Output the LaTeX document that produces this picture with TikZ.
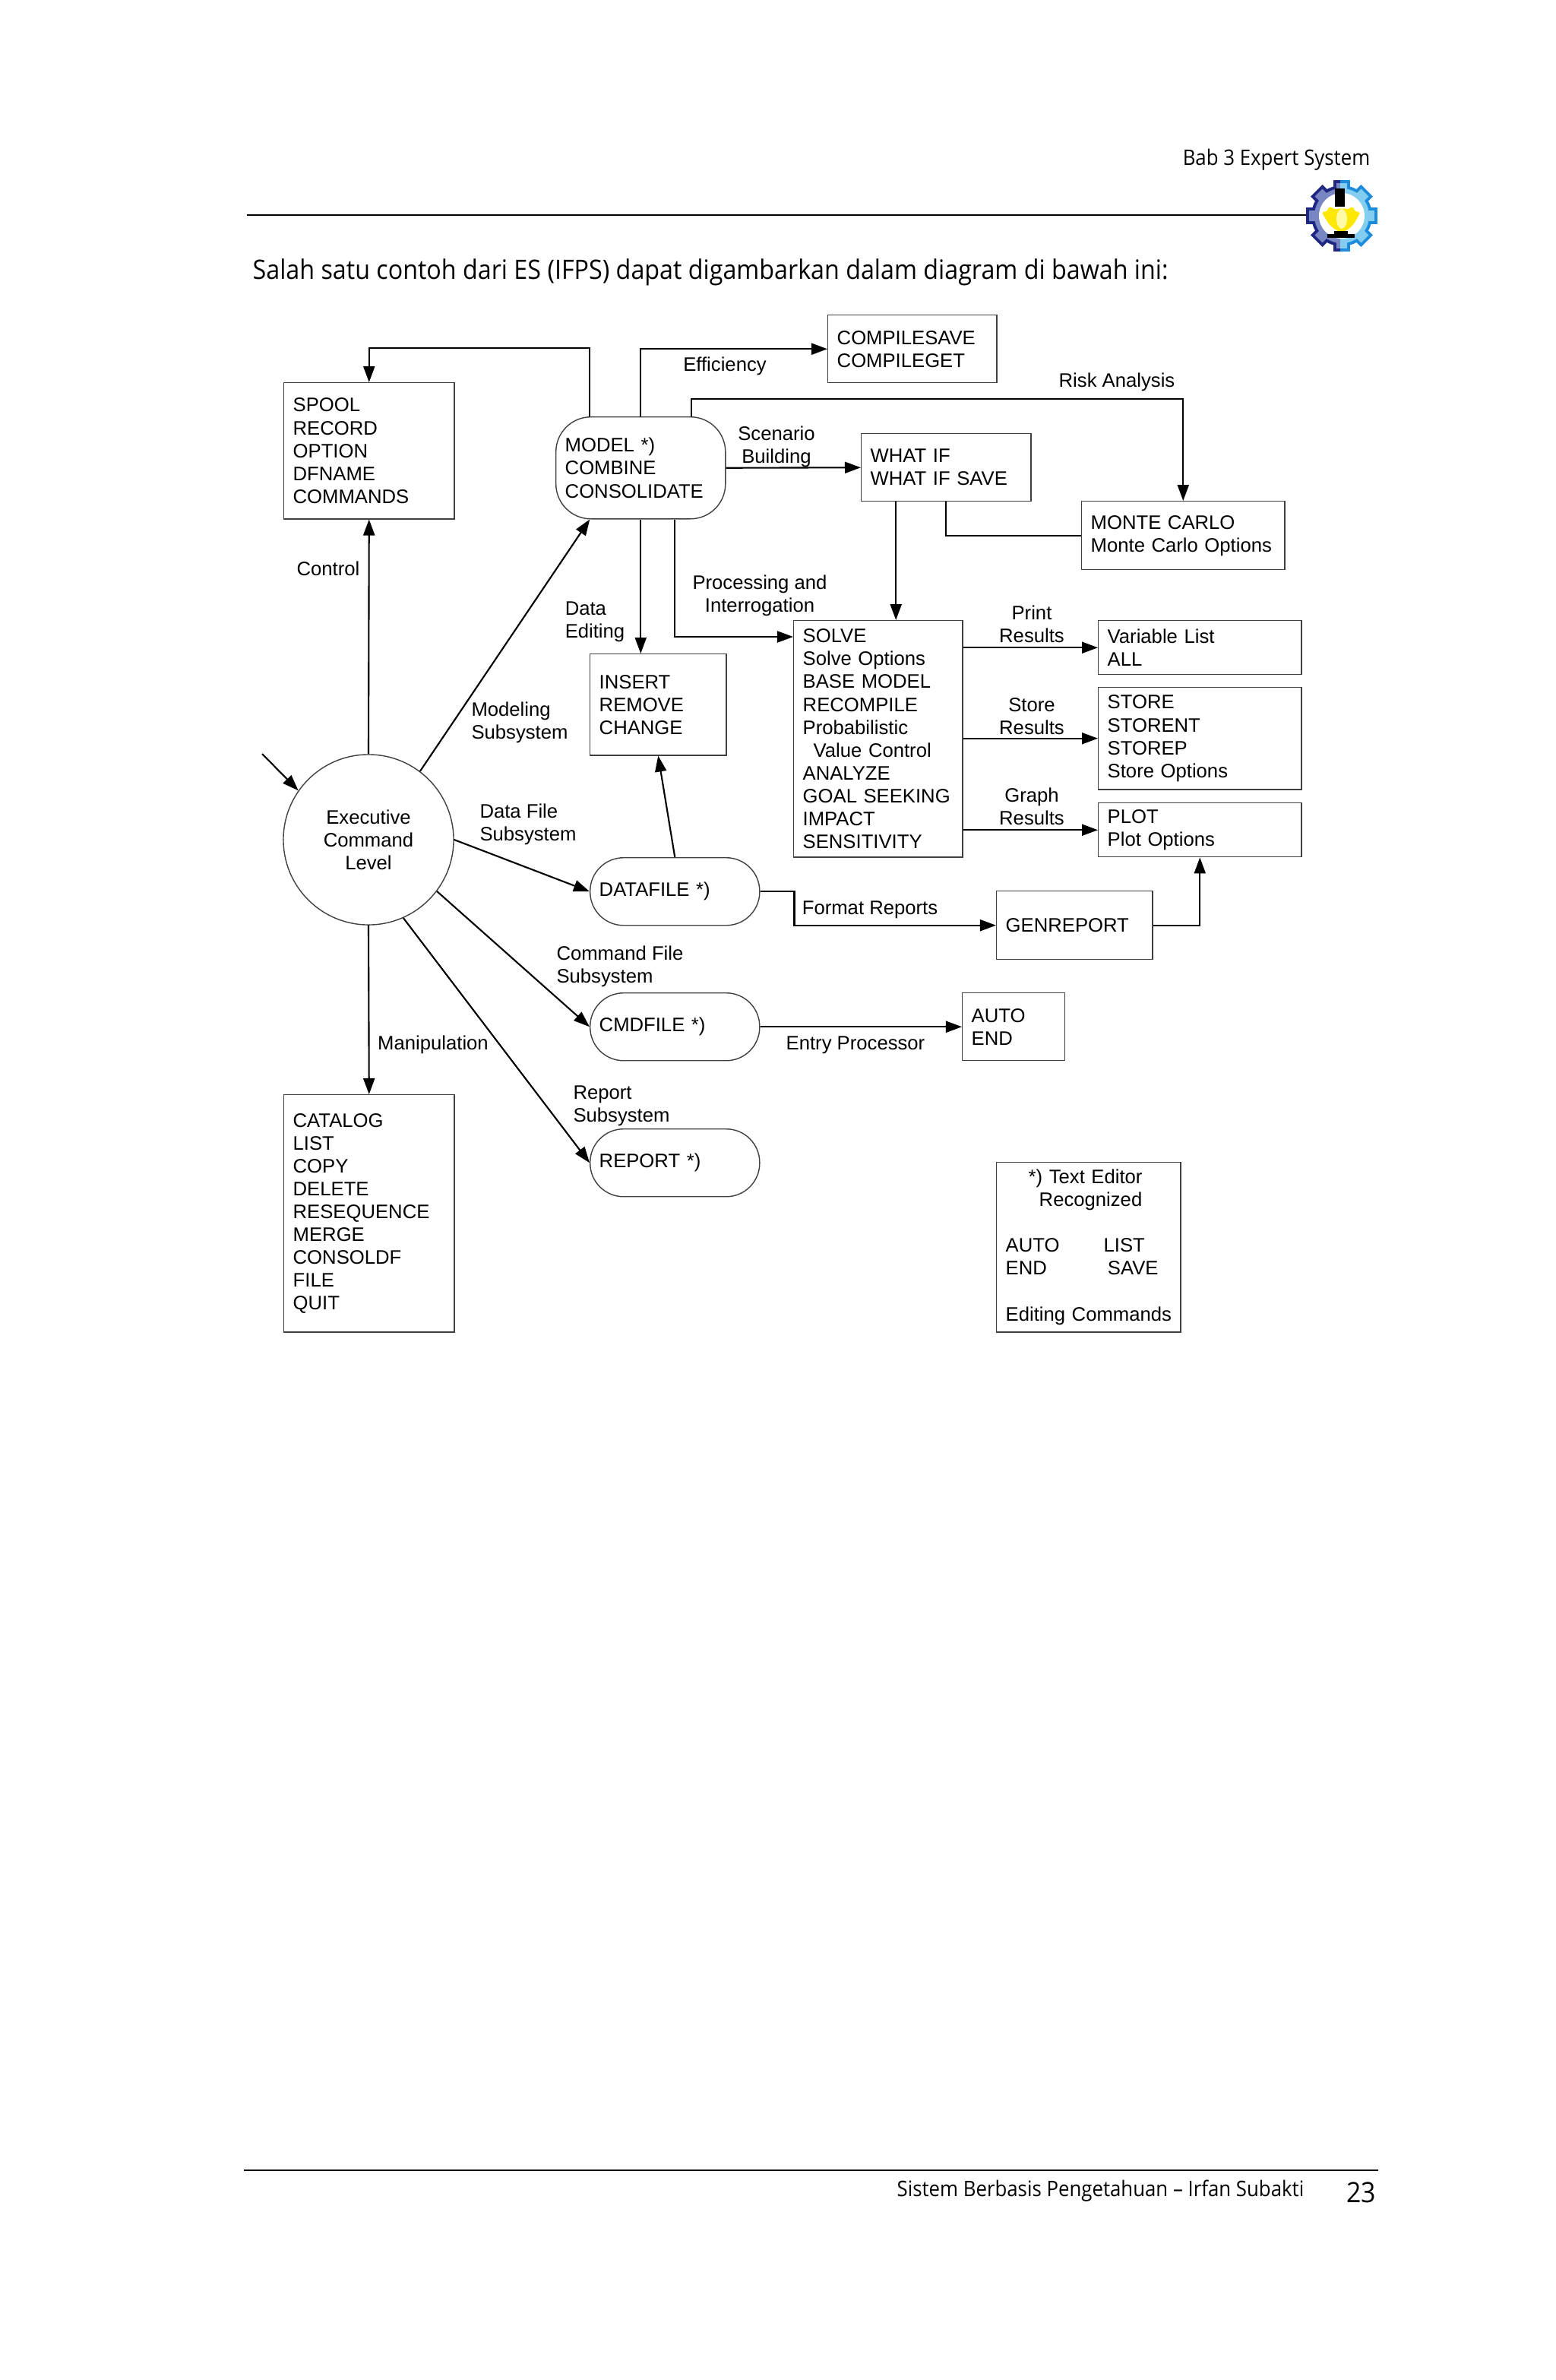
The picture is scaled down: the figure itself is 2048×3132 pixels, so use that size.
\documentclass[tikz,border=0pt]{standalone}
\usepackage{fontspec}
\setmainfont{Liberation Sans}
\newfontfamily\pagefont[FakeStretch=0.917]{Open Sans}
\usetikzlibrary{arrows.meta,positioning}
\tikzset{cbox/.style 2 args={draw=black!75, line width=0.4pt, anchor=north west, align=left, inner xsep=1.2mm, inner ysep=0pt, text width=#1mm-2.4mm, minimum height=#2mm}}
\tikzset{rbox/.style 2 args={cbox={#1}{#2}, rounded corners=4.4mm}}
\tikzset{lbl/.style={inner sep=0pt, align=center}}
\tikzset{lbll/.style={inner sep=0pt, align=left}}
\tikzset{arr/.style={draw, -{Triangle[length=2.1mm,width=1.5mm]}, line width=0.6pt}}
\tikzset{pagerule/.style={line width=0.75pt}}
\definecolor{logonavy}{RGB}{30,40,130}
\definecolor{logoslate}{RGB}{120,135,195}
\definecolor{logosky}{RGB}{30,140,220}
\definecolor{logopale}{RGB}{130,205,240}

\begin{document}
\begin{tikzpicture}[x=0.01cm, y=-0.01cm, font=\fontsize{7.3}{8.55}\selectfont]
        \useasboundingbox (0,0) rectangle (2048,3132);

        % page
        \node[inner sep=0pt, anchor=east, font=\pagefont\fontsize{8}{9}\selectfont] (head) at (1804,210) {Bab 3 Expert System};
        \node[inner sep=0pt, anchor=west, font=\pagefont\fontsize{10}{12}\selectfont] (intro) at (332,358) {Salah satu contoh dari ES (IFPS) dapat digambarkan dalam diagram di bawah ini:};
        \node[inner sep=0pt, anchor=east, font=\pagefont\fontsize{8}{9}\selectfont] (foot) at (1717,2883) {Sistem Berbasis Pengetahuan – Irfan Subakti};
        \node[inner sep=0pt, anchor=east, font=\pagefont\fontsize{10.5}{12}\selectfont] (pageno) at (1812,2885) {23};
        \coordinate (headl) at (325,283);
        \coordinate (headr) at (1722,283);
        \coordinate (footl) at (321,2856);
        \coordinate (footr) at (1814,2856);
        \draw[pagerule] (headl) -- (headr);
        \draw[pagerule] (footl) -- (footr);

        % logo
        \begin{scope}[shift={(1766,284)}]
            \begin{scope}
                \clip (-60,-60) rectangle (-2,60);
                \fill[logonavy] (0,0) circle[radius=40];
                \foreach \a in {0,45,...,315}
                    \fill[logonavy, rotate=\a] (-11,-47) rectangle (11,-36);
                \fill[logoslate] (0,0) circle[radius=36];
                \foreach \a in {0,45,...,315}
                    \fill[logoslate, rotate=\a] (-7,-43) rectangle (7,-34);
            \end{scope}
            \begin{scope}
                \clip (-2,-60) rectangle (60,60);
                \fill[logosky] (0,0) circle[radius=40];
                \foreach \a in {0,45,...,315}
                    \fill[logosky, rotate=\a] (-11,-47) rectangle (11,-36);
                \fill[logopale] (0,0) circle[radius=36];
                \foreach \a in {0,45,...,315}
                    \fill[logopale, rotate=\a] (-7,-43) rectangle (7,-34);
            \end{scope}
            \fill[white] (0,0) circle[radius=30];
            \fill[yellow!90!orange, rounded corners=2] (0,23) -- (-15,14) -- (-28,-7) -- (-19,-3) -- (-17,-15) -- (-8,-6) -- (0,-12) -- (8,-6) -- (15,-15) -- (17,-3) -- (26,-7) -- (14,14) -- cycle;
            \fill[yellow!35] (0,4) ellipse[x radius=7, y radius=13];
            \fill[black] (-9,-36) rectangle (4,-12);
            \fill[black] (-19,24) rectangle (17,29);
            \fill[black] (-10,20) rectangle (8,24);
        \end{scope}

        % boxes
        \node[cbox={22.2}{8.9}] (compile) at (1089,414) {COMPILESAVE\\COMPILEGET};
        \node[cbox={22.4}{17.9}] (spool) at (373,503) {SPOOL\\RECORD\\OPTION\\DFNAME\\COMMANDS};
        \node[cbox={22.3}{13.4}, rounded corners=4.6mm] (model) at (731,548) {MODEL *)\\COMBINE\\CONSOLIDATE};
        \node[cbox={22.3}{8.9}] (whatif) at (1133,570) {WHAT IF\\WHAT IF SAVE};
        \node[cbox={26.7}{9}] (monte) at (1423,659) {MONTE CARLO\\Monte Carlo Options};
        \node[cbox={22.2}{31.1}] (solve) at (1044,816) {SOLVE\\Solve Options\\BASE MODEL\\RECOMPILE\\Probabilistic\\\hspace*{1.4mm}Value Control\\ANALYZE\\GOAL SEEKING\\IMPACT\\SENSITIVITY};
        \node[cbox={17.9}{13.3}] (insert) at (776,860) {INSERT\\REMOVE\\CHANGE};
        \node[cbox={26.7}{7.1}] (varlist) at (1445,816) {Variable List\\ALL};
        \node[cbox={26.7}{13.4}] (store) at (1445,904) {STORE\\STORENT\\STOREP\\Store Options};
        \node[cbox={26.7}{7.1}] (plot) at (1445,1056) {PLOT\\Plot Options};
        \node[rbox={22.3}{8.9}] (datafile) at (776,1128) {DATAFILE *)};
        \node[cbox={20.5}{9}] (genreport) at (1311,1172) {GENREPORT};
        \node[rbox={22.3}{8.9}] (cmdfile) at (776,1306) {CMDFILE *)};
        \node[cbox={13.5}{8.9}] (auto) at (1266,1306) {AUTO\\END};
        \node[rbox={22.3}{8.9}] (report) at (776,1485) {REPORT *)};
        \node[cbox={22.4}{31.2}] (catalog) at (373,1440) {CATALOG\\LIST\\COPY\\DELETE\\RESEQUENCE\\MERGE\\CONSOLDF\\FILE\\QUIT};
        \node[cbox={24.2}{22.3}] (editor) at (1311,1529) {\hspace*{3mm}*) Text Editor\\\hspace*{4.4mm}Recognized\\[8.55pt]AUTO\hspace*{5.8mm}LIST\\END\hspace*{8mm}SAVE\\[8.55pt]\mbox{Editing Commands}};
        \node[draw=black!75, line width=0.4pt, circle, minimum size=22.4mm, inner sep=0pt, align=center] (exec) at (485,1105) {Executive\\Command\\Level};
        \coordinate (entry) at (345,992);

        % labels
        \node[lbl] (l1) at (954,482) {Efficiency};
        \node[lbl] (l2) at (1470,503) {Risk Analysis};
        \node[lbl] (l3) at (1022,588) {Scenario\\Building};
        \node[lbl] (l4) at (432,748) {Control};
        \node[lbl] (l5) at (1000,784) {Processing and\\Interrogation};
        \node[lbll] (l6) at (783,818) {Data\\Editing};
        \node[lbl] (l7) at (1358,821) {Print\\Results};
        \node[lbl] (l8) at (1358,943) {Store\\Results};
        \node[lbl] (l9) at (1358,1061) {Graph\\Results};
        \node[lbll] (l10) at (684,951) {Modeling\\Subsystem};
        \node[lbll] (l11) at (695,1085) {Data File\\Subsystem};
        \node[lbl] (l12) at (1145,1197) {Format Reports};
        \node[lbll] (l13) at (816,1272) {Command File\\Subsystem};
        \node[lbl] (l14) at (1126,1375) {Entry Processor};
        \node[lbl] (l15) at (570,1375) {Manipulation};
        \node[lbll] (l16) at (818,1455) {Report\\Subsystem};

        % connectors
        \begin{scope}[arr]
            \draw ([xshift=-6.7mm]model.north) -- ++(0,-90) -| (spool.north);
            \draw (model.north) |- (compile.west);
            \draw ([xshift=6.65mm]model.north) -- ++(0,-23) -| (monte.north);
            \draw (model.east) -- (whatif.west);
            \draw ([xshift=-6.6mm]whatif.south) -- ([xshift=-6.6mm]whatif.south |- solve.north);
            \draw (model.south) -- (model.south |- insert.north);
            \draw ([xshift=4.5mm]model.south) |- ([yshift=-2.2mm]solve.north west);
            \draw (exec.north) -- (spool.south);
            \draw (exec.53) -- ([xshift=-6.7mm]model.south);
            \draw (entry) -- (exec.145);
            \draw (exec.east) -- (datafile.west);
            \draw (datafile.north) -- (insert.south);
            \draw (datafile.east) -- ++(45,0) |- (genreport.west);
            \draw (genreport.east) -| (plot.south);
            \draw (exec.-37) -- (cmdfile.west);
            \draw (cmdfile.east) -- (auto.west);
            \draw (exec.-66) -- (report.west);
            \draw (exec.south) -- (catalog.north);
            \draw (solve.east |- varlist.west) -- (varlist.west);
            \draw (solve.east |- store.west) -- (store.west);
            \draw (solve.east |- plot.west) -- (plot.west);
        \end{scope}
        \draw[line width=0.6pt] (whatif.south) |- (monte.west);
    \end{tikzpicture}
\end{document}
